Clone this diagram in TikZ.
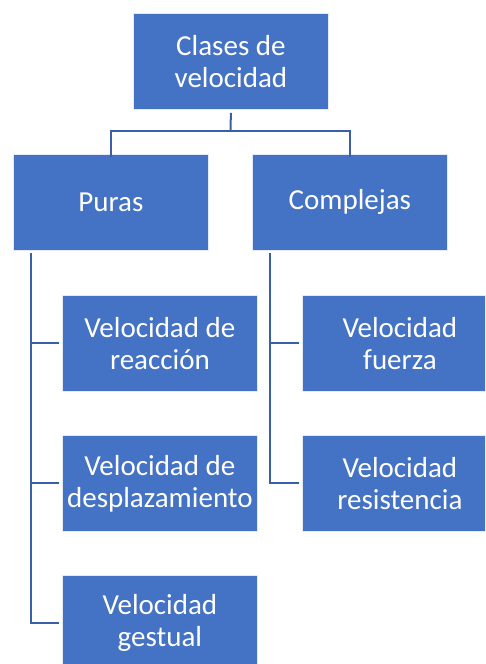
\documentclass[tikz,border=0pt]{standalone}
\usepackage{fontspec}
\setmainfont{Carlito}
\definecolor{boxblue}{HTML}{4472C4}
\definecolor{lineblue}{HTML}{3A5FA8}
\begin{document}
\begin{tikzpicture}[x=1pt,y=-1pt,
  box/.style={fill=boxblue,draw=white!85!boxblue,line width=0.8pt,minimum width=195pt,minimum height=96pt,
    inner sep=0pt,text=white,align=center,font=\fontsize{29}{32}\selectfont,anchor=north west},
  conn/.style={draw=lineblue,line width=2pt}]
\useasboundingbox (0,0) rectangle (485,664);
\begin{scope}
\clip (0,0) rectangle (485,664);
\node[box] (top) at (133,13) {Clases de\\velocidad};
\node[box] (puras) at (13,154) {Puras};
\node[box] (comp) at (252,154) {Complejas};
\node[box] (reac) at (62,295) {Velocidad de\\reacción};
\node[box] (desp) at (62,435) {Velocidad de\\desplazamiento};
\node[box] (gest) at (62,575) {Velocidad\\gestual};
\node[box] (fuer) at (302,295) {Velocidad\\fuerza};
\node[box] (resi) at (302,435) {Velocidad\\resistencia};
\coordinate (hub) at (230.5,131);
\coordinate (lt) at (31,253);
\coordinate (rt) at (270,253);
\draw[conn] ([yshift=-3pt]top.south) -- (hub);
\draw[conn] ([yshift=-3pt]puras.north) |- (hub) -| ([yshift=-3pt]comp.north);
\draw[conn] (lt) |- ([xshift=-3pt]gest.west);
\draw[conn] (lt |- reac.west) -- ([xshift=-3pt]reac.west);
\draw[conn] (lt |- desp.west) -- ([xshift=-3pt]desp.west);
\draw[conn] (rt) |- ([xshift=-3pt]resi.west);
\draw[conn] (rt |- fuer.west) -- ([xshift=-3pt]fuer.west);
\end{scope}
\end{tikzpicture}
\end{document}
